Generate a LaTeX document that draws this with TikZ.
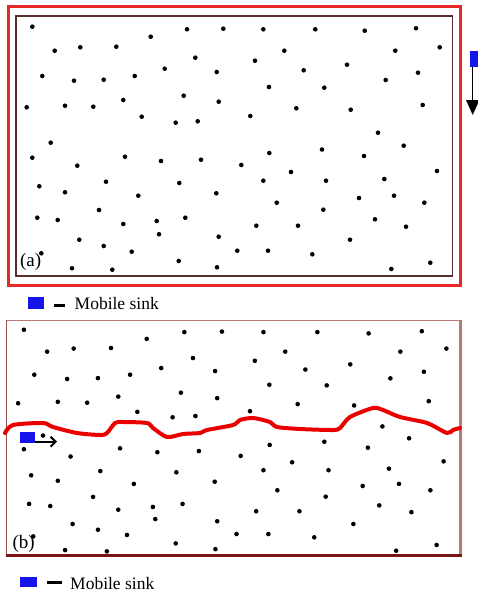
\documentclass[tikz,border=0pt]{standalone}
\usepackage{fontspec}
\setmainfont{Liberation Serif}
\usetikzlibrary{arrows.meta}
\definecolor{framered}{RGB}{232,40,40}
\definecolor{innerbrown}{RGB}{90,45,45}
\definecolor{rosy}{RGB}{185,120,120}
\definecolor{rosydark}{RGB}{150,80,80}
\definecolor{maroon}{RGB}{125,20,20}
\definecolor{sinkblue}{RGB}{20,20,235}
\definecolor{pathred}{RGB}{235,0,0}
\def\dotlist{32.3/26.7, 187/29.3, 223.3/28.7, 263.3/29.3, 315.3/29.3, 364.7/30.7, 416/28.3,
150.7/36.7, 54.7/50.7, 80.3/47.3, 116.3/46.7, 195.3/57.7, 255/60.7, 284.3/50.7, 395.3/50.7, 439.7/47.3,
164.7/68.7, 216.7/72, 303.7/70.3, 347/64.7, 42.3/76, 74/80.7, 103.7/79.7, 134.7/76, 385.7/80, 418/72.7,
269/87, 324.3/87.7, 183.7/95.7, 26.7/107.3, 65/105.7, 93.3/106.7, 123.3/100, 218.7/101.7, 296.3/108.3,
350.7/109.7, 422.7/105, 141.7/116.7, 175.7/122.7, 197.7/121.3, 250.3/116, 378/132.7, 50.7/142.7,
322/149.5, 403.7/145.7, 32.3/157.7, 77.3/165.7, 125/156.7, 161/161, 201/159.7, 241.3/165, 269.3/153,
364/156, 291/172, 437/171, 39.3/186.3, 106/181.7, 179.3/183, 263.3/180.7, 326/180.7, 384.3/179,
65/192.3, 138.3/195.7, 216.3/193.3, 359/198, 394/195.7, 276.7/202.7, 424.3/202.7, 99/210, 323.3/209.7,
37.3/217.7, 57.7/220, 123.3/224, 156.7/221, 185.3/217.7, 256.3/225.7, 298/225.7, 375/219.3, 406/226.7,
159/234.3, 79.3/239.7, 103.7/246, 218.7/236.7, 350/239.7, 131.7/251.7, 237.3/250.7, 268/250.7,
312.3/254.3, 41.3/253.3, 178.7/261, 430.3/262.7, 72/268.3, 112.3/269.7, 217/267.3, 391.3/269}
\begin{document}
\begin{tikzpicture}[x=1pt,y=-1pt,
  dot/.style={circle,fill=black,inner sep=0pt,minimum size=4.6pt},
  sinkbox/.style={rectangle,fill=sinkblue,inner sep=0pt},
  lbl/.style={inner sep=0pt,anchor=base west,font=\fontsize{17.5}{20}\selectfont},
  tag/.style={inner sep=0pt,anchor=base west,font=\fontsize{19}{22}\selectfont},
  legdash/.style={line width=3pt,black}]
\useasboundingbox (0,0) rectangle (478,594);

% ---------- panel (a) ----------
\draw[framered,line width=3pt] (8.5,6.3) rectangle (460.7,285.3);
\draw[innerbrown,line width=1.8pt] (15.8,15.8) rectangle (452.5,276);
\foreach \px/\py [count=\i] in \dotlist { \node[dot] (a\i) at (\px,\py) {}; }
\node[tag] (taga) at (19.8,266) {(a)};

% mobile sink (a)
\node[sinkbox,minimum width=8.5pt,minimum height=16pt] (sinkA) at (473.75,59) {};
\coordinate (sinkAend) at (472.7,115);
\draw[line width=1.5pt,-{Triangle[width=13pt,length=15pt]}] (sinkA.south west -| sinkAend) -- (sinkAend);

% legend 1
\node[sinkbox,minimum width=16pt,minimum height=12pt] (leg1) at (36.3,303) {};
\draw[legdash] (54.3,305.3) -- (65,305.3);
\node[lbl] (leg1t) at (74.5,309) {Mobile sink};

% ---------- panel (b) ----------
\begin{scope}[shift={(-9.59,305.4)},xscale=1.037,yscale=0.912]
\foreach \px/\py [count=\i] in \dotlist { \node[dot] (b\i) at (\px,\py) {}; }
\end{scope}
\draw[rosy,line width=1.5pt] (6.5,320.7) -- (460.5,320.7);
\draw[rosy,line width=3pt] (460.3,320) -- (460.3,557);
\draw[rosydark,line width=1.5pt] (6.5,320) -- (6.5,556);
\draw[maroon,line width=3pt] (5.8,555.5) -- (461.8,555.5);
\node[tag] (tagb) at (12.4,548) {(b)};

% path of the sink
\draw[pathred,line width=4pt,line join=round,line cap=round,smooth,tension=0.45] plot coordinates {
(5,433) (13,425) (43,423) (53,427) (77,433) (100,435) (107,433) (115,423) (123,422) (147,423)
(153,428) (167,437) (183,434) (200,433) (207,430) (233,425) (240,420) (253,418) (270,422)
(277,427) (300,429) (333,430) (340,428) (350,417) (373,408) (383,410) (400,417) (427,423)
(447,433) (453,430) (460,428)};

% mobile sink (b)
\node[sinkbox,minimum width=15pt,minimum height=11pt] (sinkB) at (27.5,437.5) {};
\coordinate (sinkBend) at (57,441.7);
\draw[line width=2pt,-{Straight Barb[length=5pt,width=10pt]}] (sinkB.east |- sinkBend) -- (sinkBend);

% legend 2
\node[sinkbox,minimum width=16.7pt,minimum height=10.6pt] (leg2) at (28.3,582) {};
\draw[legdash] (46.7,582.7) -- (61.7,582.7);
\node[lbl] (leg2t) at (70,589) {Mobile sink};
\end{tikzpicture}
\end{document}
